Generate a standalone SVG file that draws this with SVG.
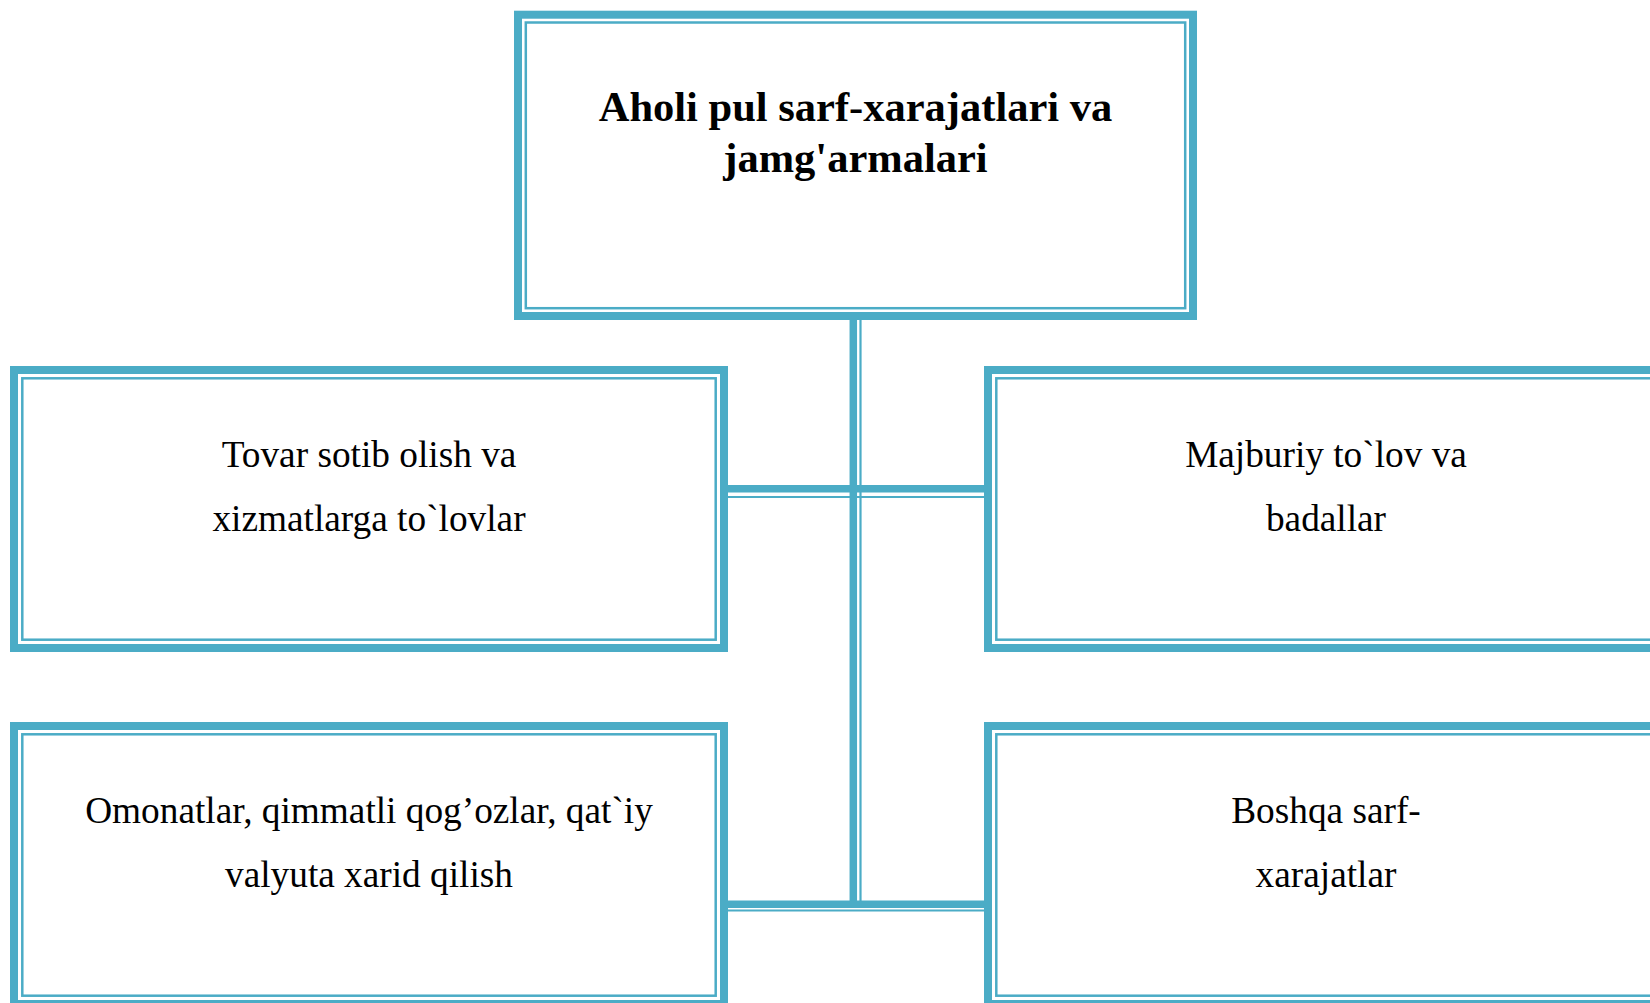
<svg xmlns="http://www.w3.org/2000/svg" width="1650" height="1003" viewBox="0 0 1650 1003">
<style>
.thick{fill:none;stroke:#4BACC6;stroke-width:8}
.thin{fill:none;stroke:#4BACC6;stroke-width:2.5}
.cthick{stroke:#4BACC6;stroke-width:7.5;fill:none}
.cthin{stroke:#4BACC6;stroke-width:2.2;fill:none}
.t{font-family:"Liberation Serif","Times New Roman",serif;font-size:37.3px;fill:#000;text-anchor:middle}
.tb{font-family:"Liberation Serif","Times New Roman",serif;font-size:42.5px;font-weight:bold;fill:#000;text-anchor:middle}
</style>
<rect width="1650" height="1003" fill="#fff"/>
<g id="connectors">
<line class="cthick" x1="853.3" y1="318" x2="853.3" y2="908"/>
<line class="cthin" x1="860.5" y1="318" x2="860.5" y2="901"/>
<line class="cthick" x1="726" y1="488.8" x2="986" y2="488.8"/>
<line class="cthin" x1="726" y1="497" x2="986" y2="497"/>
<line class="cthick" x1="726" y1="904.3" x2="986" y2="904.3"/>
<line class="cthin" x1="726" y1="910.5" x2="986" y2="910.5"/>
</g>
<g id="node-top">
<rect class="thick" x="518" y="14.7" width="675" height="301.3"/>
<rect class="thin" x="525.8" y="22.5" width="659.4" height="285.7"/>
<text class="tb" x="855.5" y="121">Aholi pul sarf-xarajatlari va</text>
<text class="tb" x="855.5" y="172">jamg'armalari</text>
</g>
<g id="node-tovar">
<rect class="thick" x="14" y="370" width="710" height="278"/>
<rect class="thin" x="22.3" y="378.3" width="693.4" height="261.4"/>
<text class="t" x="369" y="467">Tovar sotib olish va</text>
<text class="t" x="369" y="531">xizmatlarga to`lovlar</text>
</g>
<g id="node-majburiy">
<rect class="thick" x="988" y="370" width="710" height="278"/>
<rect class="thin" x="996.3" y="378.3" width="693.4" height="261.4"/>
<text class="t" x="1326" y="467">Majburiy to`lov va</text>
<text class="t" x="1326" y="531">badallar</text>
</g>
<g id="node-omonatlar">
<rect class="thick" x="14" y="726" width="710" height="278"/>
<rect class="thin" x="22.3" y="734.3" width="693.4" height="261.4"/>
<text class="t" x="369" y="823">Omonatlar, qimmatli qog’ozlar, qat`iy</text>
<text class="t" x="369" y="887">valyuta xarid qilish</text>
</g>
<g id="node-boshqa">
<rect class="thick" x="988" y="726" width="710" height="278"/>
<rect class="thin" x="996.3" y="734.3" width="693.4" height="261.4"/>
<text class="t" x="1326" y="823">Boshqa sarf-</text>
<text class="t" x="1326" y="887">xarajatlar</text>
</g>
</svg>
